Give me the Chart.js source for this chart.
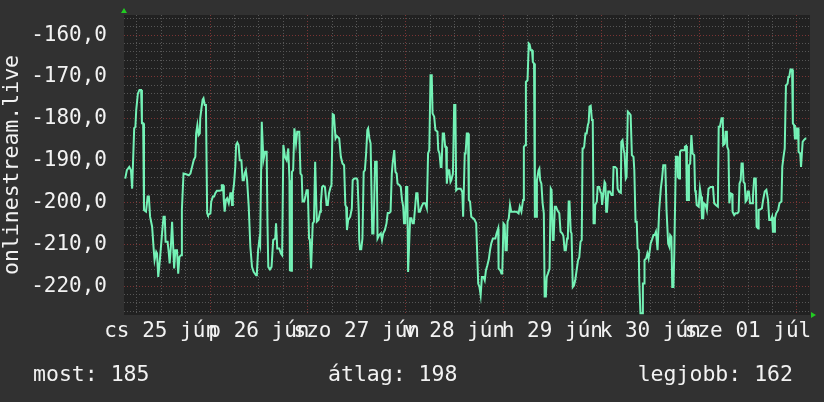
<!DOCTYPE html>
<html>
<head>
<meta charset="utf-8">
<script src="https://cdn.jsdelivr.net/npm/chart.js@4/dist/chart.umd.min.js"></script>
<style>
  html, body { margin: 0; padding: 0; background: #313131; }
  #chart { display: block; }
</style>
</head>
<body>
<canvas id="chart" width="824" height="402"></canvas>
<script>
// hours since jún 25 00:00
const jun25 = [[3.2,-194.3],[3.6,-192.3],[4.2,-191.5],[4.6,-192.3],[4.9,-196.7],[5.1,-196.7],[5.4,-182.3],[5.7,-181.9],[5.9,-177.9],[6.3,-174.0],[6.7,-173.1],[7.1,-173.1],[7.3,-181.1],[7.6,-181.1],[7.8,-201.8],[8.3,-202.2],[8.7,-198.6],[9.0,-198.6],[9.3,-203.4],[9.8,-205.8],[10.2,-211.4],[10.4,-213.8],[10.8,-211.8],[11.0,-212.2],[11.3,-217.8],[11.7,-213.8],[12.2,-207.8],[12.6,-203.4],[12.9,-203.4],[13.1,-209.4],[13.6,-209.4],[13.9,-212.2],[14.1,-214.6],[14.4,-210.6],[14.7,-204.6],[14.9,-204.6],[15.2,-215.8],[15.5,-211.4],[15.9,-211.4],[16.2,-217.0],[16.5,-213.0],[16.9,-212.6],[17.1,-201.8],[17.5,-193.1],[18.0,-193.2],[18.8,-193.5],[19.2,-193.1],[19.6,-191.5],[20.0,-189.9],[20.4,-189.1],[20.6,-183.5],[20.9,-181.5],[21.2,-183.9],[21.5,-183.5],[21.6,-179.9],[21.9,-177.5],[22.2,-175.4],[22.4,-175.1],[22.7,-176.7],[23.0,-176.7],[23.3,-202.6],[23.5,-203.0]];
const jun26 = [[24.1,-202.6],[24.3,-199.8],[24.7,-198.6],[25.0,-198.6],[25.3,-197.8],[25.7,-197.2],[26.3,-197.2],[26.8,-197.1],[26.9,-195.9],[27.2,-195.9],[27.4,-199.8],[27.6,-202.2],[27.9,-199.4],[28.2,-199.0],[28.6,-200.2],[29.0,-197.8],[29.2,-197.8],[29.4,-200.6],[29.6,-197.8],[29.9,-195.5],[30.2,-191.5],[30.4,-186.3],[30.7,-185.7],[31.0,-186.3],[31.3,-189.9],[31.7,-189.9],[32.0,-194.7],[32.3,-194.7],[32.5,-193.1],[32.8,-192.3],[33.1,-194.7],[33.5,-201.0],[33.9,-210.6],[34.3,-215.4],[34.7,-216.6],[35.3,-217.4],[35.5,-217.0],[35.8,-211.4],[36.1,-209.0],[36.3,-210.0],[36.7,-180.7],[37.1,-189.9],[37.5,-187.9],[37.9,-187.9],[38.1,-205.0],[38.3,-215.4],[38.7,-216.0],[39.1,-215.4],[39.5,-209.0],[40.0,-208.6],[40.2,-205.0],[40.5,-211.0],[41.0,-211.0],[41.4,-212.2],[41.7,-212.6],[42.0,-186.3],[42.4,-189.1],[42.8,-189.9],[43.2,-187.1],[43.5,-194.7],[43.6,-216.2],[43.9,-216.3],[44.1,-192.7],[44.4,-192.3],[44.7,-182.3],[45.1,-185.9],[45.4,-183.1],[45.9,-183.1],[46.2,-193.1],[46.5,-193.5],[46.7,-199.8],[47.1,-199.8],[47.4,-198.6],[47.7,-197.1],[48.0,-197.1]];
const jun27 = [[48.3,-208.6],[48.5,-209.0],[48.8,-215.8],[49.0,-215.8],[49.2,-205.0],[49.5,-204.6],[49.8,-190.3],[50.0,-190.3],[50.2,-204.6],[50.6,-204.2],[51.0,-202.2],[51.2,-200.2],[51.5,-196.3],[51.8,-196.0],[52.2,-196.3],[52.6,-200.6],[52.9,-200.6],[53.2,-197.8],[53.6,-196.3],[53.8,-195.9],[54.1,-178.9],[54.4,-179.1],[54.8,-184.7],[55.1,-184.1],[55.7,-184.7],[56.1,-189.1],[56.5,-190.7],[56.9,-191.1],[57.2,-200.6],[57.4,-201.0],[57.6,-206.6],[57.9,-204.2],[58.4,-203.4],[58.8,-201.4],[59.0,-194.7],[59.4,-194.3],[60.0,-194.3],[60.2,-194.7],[60.5,-202.6],[60.6,-209.0],[60.8,-211.2],[61.1,-211.2],[61.4,-208.6],[61.7,-192.7],[62.0,-192.3],[62.3,-188.3],[62.6,-182.7],[62.8,-182.3],[63.1,-184.7],[63.4,-185.9],[63.6,-196.3],[63.8,-207.4],[64.1,-207.4],[64.5,-190.3],[64.9,-190.3],[65.1,-208.6],[65.5,-207.8],[65.9,-207.4],[66.2,-209.0],[66.5,-207.4],[66.9,-206.6],[67.3,-205.0],[67.6,-202.5],[68.0,-202.5],[68.3,-202.2],[68.6,-193.1],[68.8,-190.7],[69.2,-187.5],[69.5,-192.7],[69.8,-193.1],[70.0,-195.5],[70.5,-195.9],[70.8,-196.3],[71.1,-199.4],[71.4,-201.0],[71.6,-205.0],[71.9,-205.0]];
const jun28 = [[72.1,-196.3],[72.4,-196.3],[72.6,-216.6],[72.8,-216.6],[73.1,-203.8],[73.4,-203.8],[73.7,-205.0],[74.0,-205.0],[74.4,-200.2],[74.6,-197.8],[74.9,-197.8],[75.2,-202.2],[75.5,-202.2],[75.9,-201.0],[76.3,-200.2],[76.8,-200.2],[77.2,-201.4],[77.5,-188.3],[77.8,-187.5],[78.1,-169.6],[78.4,-169.6],[78.6,-178.7],[79.0,-179.5],[79.3,-182.7],[79.8,-183.1],[80.0,-187.5],[80.3,-188.3],[80.6,-191.5],[80.8,-191.5],[81.1,-183.5],[81.4,-183.5],[81.7,-186.7],[81.9,-186.7],[82.1,-195.5],[82.4,-192.3],[82.7,-192.3],[83.0,-195.1],[83.2,-194.7],[83.6,-193.1],[83.9,-176.7],[84.2,-176.7],[84.4,-197.1],[84.8,-196.7],[85.5,-196.7],[85.9,-197.5],[86.1,-203.4],[86.3,-203.4],[86.5,-188.3],[86.7,-188.3],[87.0,-183.5],[87.3,-183.5],[87.5,-199.4],[87.8,-199.8],[88.1,-203.4],[88.8,-204.0],[89.3,-205.0],[89.8,-219.4],[90.1,-220.2],[90.4,-222.2],[90.7,-217.8],[91.1,-217.8],[91.4,-218.6],[91.7,-216.2],[92.0,-215.2],[92.4,-213.6],[92.7,-211.4],[93.0,-209.8],[93.4,-208.6],[94.0,-208.6],[94.3,-207.4],[94.7,-206.2],[94.8,-215.8],[95.2,-216.2],[95.5,-217.0],[95.7,-217.0]];
const jun29 = [[96.0,-205.0],[96.3,-205.4],[96.5,-211.4],[96.8,-211.4],[97.0,-204.6],[97.3,-203.8],[97.6,-200.6],[97.9,-202.2],[99.2,-202.2],[99.7,-202.6],[100.0,-201.0],[100.4,-202.2],[100.8,-199.4],[101.0,-186.7],[101.3,-186.3],[101.5,-171.2],[101.9,-170.8],[102.2,-162.0],[102.4,-162.2],[102.7,-163.6],[103.0,-163.6],[103.2,-166.4],[103.5,-166.8],[103.7,-203.4],[104.0,-203.4],[104.2,-194.7],[104.6,-192.3],[104.8,-191.9],[105.0,-194.7],[105.3,-195.5],[105.6,-200.2],[105.9,-202.6],[106.1,-222.5],[106.4,-222.5],[106.6,-217.8],[106.9,-217.0],[107.3,-215.8],[107.6,-196.7],[107.8,-197.1],[108.1,-209.0],[108.3,-209.0],[108.6,-201.0],[108.9,-201.0],[109.2,-201.8],[109.7,-202.6],[110.0,-207.0],[110.4,-207.4],[110.7,-208.0],[111.0,-211.4],[111.3,-211.4],[111.6,-208.6],[111.8,-208.0],[112.0,-199.8],[112.2,-199.8],[112.5,-207.0],[112.7,-207.4],[113.0,-220.2],[113.3,-219.8],[113.6,-218.6],[114.0,-215.8],[114.3,-213.8],[114.6,-213.1],[114.9,-209.4],[115.2,-209.0],[115.4,-187.1],[115.6,-187.1],[115.8,-186.7],[116.1,-183.5],[116.4,-183.5],[116.7,-181.5],[116.9,-180.9],[117.1,-177.1],[117.4,-176.9],[117.7,-180.3],[117.9,-180.3],[118.1,-205.0],[118.4,-205.0],[118.5,-200.6],[118.9,-199.8],[119.1,-196.3],[119.5,-196.3],[119.8,-197.5]];
const jun30 = [[120.0,-197.8],[120.2,-200.6],[120.5,-197.8],[120.8,-195.1],[121.0,-195.5],[121.2,-202.2],[121.4,-202.2],[121.7,-197.4],[122.1,-197.4],[122.5,-198.2],[122.8,-198.2],[123.0,-191.5],[123.4,-191.5],[123.8,-191.9],[124.0,-196.7],[124.4,-197.5],[124.8,-197.7],[124.9,-185.5],[125.2,-185.1],[125.5,-187.5],[125.7,-188.3],[126.0,-194.3],[126.2,-193.9],[126.5,-178.3],[126.9,-178.7],[127.2,-179.1],[127.5,-188.7],[127.9,-189.1],[128.1,-192.3],[128.4,-204.6],[128.7,-204.6],[128.9,-211.0],[129.2,-211.4],[129.3,-218.6],[129.6,-226.5],[130.0,-226.5],[130.2,-219.4],[130.5,-219.4],[130.6,-213.8],[131.0,-213.4],[131.3,-212.2],[131.6,-213.4],[131.9,-211.4],[132.1,-209.8],[132.4,-209.0],[132.8,-207.8],[133.1,-207.8],[133.4,-207.0],[133.8,-211.4],[133.9,-211.4],[134.2,-201.8],[134.6,-196.7],[134.9,-194.3],[135.2,-191.1],[135.7,-191.1],[136.0,-201.8],[136.4,-209.8],[136.7,-210.6],[136.9,-207.8],[137.2,-208.2],[137.4,-220.2],[137.7,-220.2],[137.9,-212.2],[138.3,-189.1],[138.7,-189.1],[138.8,-193.9],[139.1,-194.3],[139.3,-187.9],[139.6,-187.5],[140.3,-187.5],[140.5,-186.7],[140.8,-186.5],[141.0,-199.4],[141.3,-199.4],[141.5,-191.1],[141.8,-190.7],[142.1,-183.9],[142.4,-188.3],[142.8,-188.7],[143.0,-197.1],[143.2,-197.9],[143.4,-200.6],[143.9,-201.0]];
const jul01 = [[144.2,-196.7],[144.5,-198.6],[144.7,-203.8],[145.0,-203.8],[145.2,-200.2],[145.6,-200.6],[145.9,-201.8],[146.3,-196.7],[146.8,-196.3],[147.4,-196.3],[147.7,-200.2],[148.1,-200.6],[148.6,-201.0],[148.8,-181.9],[149.1,-181.9],[149.5,-179.9],[149.8,-179.9],[149.9,-186.3],[150.3,-185.9],[150.5,-183.1],[150.8,-183.1],[150.9,-186.7],[151.2,-187.5],[151.4,-200.2],[151.7,-197.8],[152.1,-198.0],[152.2,-202.2],[152.6,-203.0],[152.9,-202.6],[153.4,-202.6],[153.7,-202.2],[153.9,-195.5],[154.2,-194.7],[154.4,-190.7],[154.7,-190.7],[154.9,-195.1],[155.2,-195.5],[155.4,-199.8],[155.7,-199.4],[155.9,-197.4],[156.2,-197.4],[156.5,-200.2],[157.0,-200.2],[157.2,-198.6],[157.5,-194.3],[157.9,-194.3],[158.1,-205.8],[158.5,-206.2],[158.6,-201.8],[159.1,-201.6],[159.4,-201.4],[159.7,-199.4],[160.1,-197.4],[160.5,-197.0],[160.9,-199.4],[161.2,-204.2],[161.6,-204.2],[161.9,-203.4],[162.1,-207.0],[162.4,-207.0],[162.6,-203.8],[162.9,-202.6],[163.4,-201.8],[163.7,-200.2],[164.2,-199.8],[164.4,-191.5],[164.7,-189.1],[165.0,-187.1],[165.3,-172.0],[165.7,-171.6],[165.9,-170.0],[166.1,-170.0],[166.4,-168.2],[166.8,-168.2],[167.0,-181.1],[167.3,-181.5],[167.5,-184.7],[167.8,-184.7]];
const jul02 = [[168.0,-182.3],[168.3,-182.3],[168.4,-187.9],[168.8,-188.3],[169.0,-191.5],[169.2,-191.5],[169.4,-185.5],[169.7,-185.1],[170.1,-184.7],[170.3,-184.7]];

const dayLabels = ['cs 25 jún', 'p 26 jún', 'szo 27 jún', 'v 28 jún', 'h 29 jún', 'k 30 jún', 'sze 01 júl'];
const yTitle = 'onlinestream.live';
const stats = ['most: 185', 'átlag: 198', 'legjobb: 162'];

const FONT = 'DejaVu Sans Mono';
const TEXT = '#f2f2f2';
const LINE = '#74f2b6';
const MINOR = '#565656';
const MAJOR = '#7a3434';

const points = [jun25, jun26, jun27, jun28, jun29, jun30, jul01, jul02]
  .flat()
  .map(p => ({ x: p[0], y: p[1] }));

// background, plot area, arrows and the summary line under the graph
const frame = {
  id: 'frame',
  beforeDraw(chart) {
    const { ctx, chartArea: a } = chart;
    ctx.save();
    ctx.fillStyle = '#313131';
    ctx.fillRect(0, 0, chart.width, chart.height);
    ctx.fillStyle = '#212121';
    ctx.fillRect(a.left, a.top, a.right - a.left, a.bottom - a.top);
    ctx.restore();
  },
  afterDraw(chart) {
    const { ctx, chartArea: a } = chart;
    ctx.save();
    ctx.fillStyle = '#22cc22';
    ctx.beginPath();
    ctx.moveTo(a.left - 3, a.top - 2);
    ctx.lineTo(a.left + 3, a.top - 2);
    ctx.lineTo(a.left, a.top - 7);
    ctx.closePath();
    ctx.fill();
    ctx.beginPath();
    ctx.moveTo(a.right + 1, a.bottom - 3);
    ctx.lineTo(a.right + 1, a.bottom + 3);
    ctx.lineTo(a.right + 6, a.bottom);
    ctx.closePath();
    ctx.fill();

    ctx.fillStyle = TEXT;
    ctx.font = '21.5px "' + FONT + '"';
    ctx.textBaseline = 'alphabetic';
    ctx.textAlign = 'left';
    ctx.fillText(stats[0], 33, 381);
    ctx.fillText(stats[1], 328, 381);
    ctx.textAlign = 'right';
    ctx.fillText(stats[2], 793, 381);
    ctx.restore();
  }
};

const ctx = document.getElementById('chart').getContext('2d');
const chart = new Chart(ctx, {
  type: 'line',
  data: {
    datasets: [{
      data: points,
      borderColor: LINE,
      borderWidth: 2,
      pointRadius: 0,
      tension: 0,
      fill: false,
    }],
  },
  options: {
    responsive: false,
    animation: false,
    layout: { padding: { top: 15, right: 14, bottom: 52, left: 0 } },
    plugins: {
      legend: { display: false },
      tooltip: { enabled: false },
    },
    scales: {
      x: {
        type: 'linear',
        min: 2.9,
        max: 171.2,
        afterFit: scale => {
          scale.height = 35;
          scale.paddingLeft = 0;
          scale.paddingRight = 0;
        },
        ticks: {
          stepSize: 6,
          includeBounds: false,
          autoSkip: false,
          maxRotation: 0,
          minRotation: 0,
          padding: 4,
          color: TEXT,
          font: { family: FONT, size: 21 },
          callback: v => (v % 24 === 12 ? dayLabels[(v - 12) / 24] : ''),
        },
        grid: {
          color: c => (c.tick && c.tick.value % 24 === 0 ? MAJOR : MINOR),
          drawTicks: false,
          lineWidth: 1,
        },
        border: { display: false, dash: [1, 2] },
      },
      y: {
        min: -226.9,
        max: -155.2,
        afterFit: scale => {
          scale.width = 124;
          scale.paddingTop = 0;
          scale.paddingBottom = 0;
        },
        ticks: {
          stepSize: 2,
          includeBounds: false,
          autoSkip: false,
          padding: 17,
          color: TEXT,
          font: { family: FONT, size: 21 },
          callback: v => (v % 10 === 0 ? v.toFixed(1).replace('.', ',') : ''),
        },
        title: {
          display: true,
          text: yTitle,
          color: TEXT,
          font: { family: FONT, size: 21.5 },
          padding: 0,
        },
        grid: {
          color: c => (c.tick && c.tick.value % 10 === 0 ? MAJOR : MINOR),
          drawTicks: false,
          lineWidth: 1,
        },
        border: { display: false, dash: [1, 2] },
      },
    },
  },
  plugins: [frame],
});
</script>
</body>
</html>
